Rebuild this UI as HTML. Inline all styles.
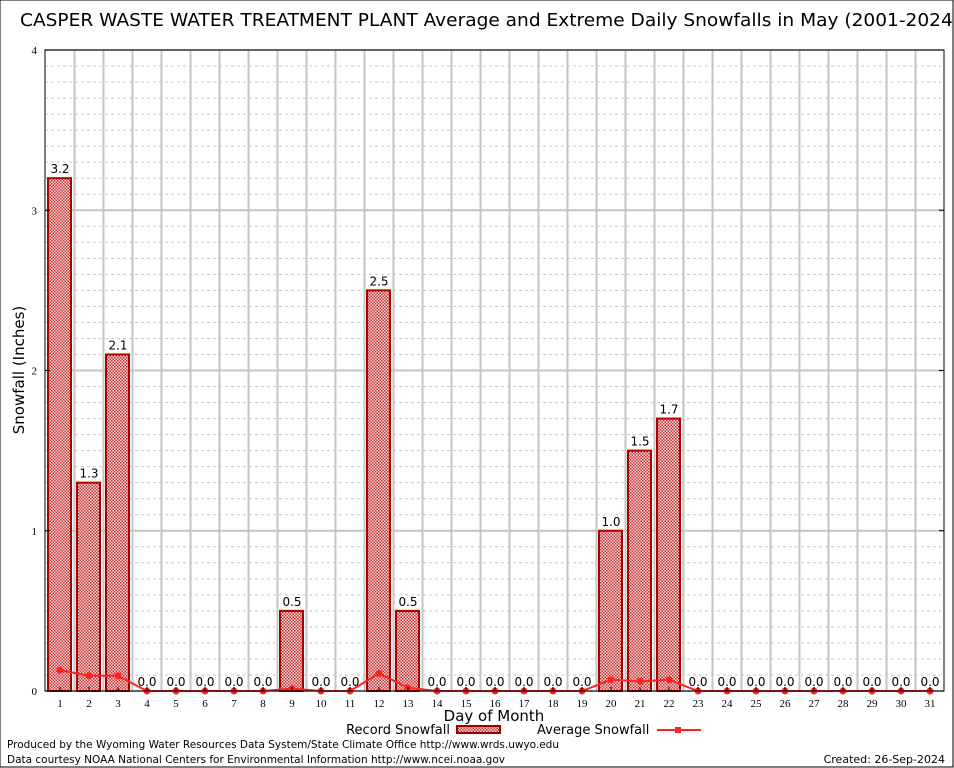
<!DOCTYPE html>
<html><head><meta charset="utf-8"><style>
body{margin:0;background:#fff;}
svg{display:block;font-family:"DejaVu Sans","Liberation Sans",sans-serif;}
</style></head><body>
<svg id="c" width="954" height="768">
<defs>
<pattern id="hatch" width="3" height="3" patternUnits="userSpaceOnUse">
<rect width="3" height="3" fill="#f4dada"/>
<rect width="1.5" height="1.5" fill="#c33"/><rect x="1.5" y="1.5" width="1.5" height="1.5" fill="#c33"/>
</pattern>
</defs>
<rect x="0" y="0" width="953" height="767" fill="#fff" stroke="#000"/>
<text x="20" y="26" font-size="18" textLength="940" lengthAdjust="spacingAndGlyphs">CASPER WASTE WATER TREATMENT PLANT Average and Extreme Daily Snowfalls in May (2001-2024)</text>
<g id="grid"></g>
<g id="bars"></g>
<g id="avg"></g>
<g id="axes"></g>
<text x="24" y="370" font-size="15" transform="rotate(-90 24 370)" text-anchor="middle">Snowfall (Inches)</text>
<text x="494" y="721" font-size="15" text-anchor="middle">Day of Month</text>
<g>
<text x="450" y="734" font-size="13" text-anchor="end">Record Snowfall</text>
<rect x="457" y="726" width="43" height="7" fill="url(#hatch)" stroke="#900" stroke-width="2"/>
</g>
<g>
<text x="537" y="734" font-size="13">Average Snowfall</text>
<line x1="657" y1="730" x2="701" y2="730" stroke="#f22" stroke-width="2"/>
<rect x="675" y="727" width="6" height="6" fill="#f22"/>
</g>
<text x="7" y="748" font-size="11" textLength="552" lengthAdjust="spacingAndGlyphs">Produced by the Wyoming Water Resources Data System/State Climate Office http://www.wrds.uwyo.edu</text>
<text x="7" y="763" font-size="11" textLength="498" lengthAdjust="spacingAndGlyphs">Data courtesy NOAA National Centers for Environmental Information http://www.ncei.noaa.gov</text>
<text x="945" y="763" font-size="11" text-anchor="end">Created: 26-Sep-2024</text>
</svg>
<script>
const days=[1,2,3,4,5,6,7,8,9,10,11,12,13,14,15,16,17,18,19,20,21,22,23,24,25,26,27,28,29,30,31];
const recordSnow=[3.2,1.3,2.1,0,0,0,0,0,0.5,0,0,2.5,0.5,0,0,0,0,0,0,1.0,1.5,1.7,0,0,0,0,0,0,0,0,0];
const avgSnow=[0.13,0.095,0.095,0,0,0,0,0,0.015,0,0,0.11,0.02,0,0,0,0,0,0,0.07,0.06,0.07,0,0,0,0,0,0,0,0,0];
const yTicks=[0,1,2,3,4];
const L=45,R=944,T=50,B=691,ymax=4;
const xs=d=>60+(d-1)*29;
const ys=v=>B-(B-T)*v/ymax;
const NS="http://www.w3.org/2000/svg";
function mk(p,tag,a){const e=document.createElementNS(NS,tag);for(const k in a)e.setAttribute(k,a[k]);p.appendChild(e);return e;}
const grid=document.getElementById('grid'),bars=document.getElementById('bars'),avg=document.getElementById('avg'),axes=document.getElementById('axes');
for(let i=1;i<40;i++){if(i%10===0)continue;const y=ys(i/10);
const g=mk(grid,'line',{x1:L,x2:R,y1:y,y2:y,stroke:'#c8c8c8','stroke-dasharray':'3,3'});

}
yTicks.forEach(t=>{const y=ys(t);
const g=mk(grid,'line',{x1:L,x2:R,y1:y,y2:y,stroke:'#c4c4c4','stroke-width':2});


const tx=mk(axes,'text',{x:L-8,y:y+4,'font-size':11,'text-anchor':'end','font-family':'Liberation Serif,serif'});tx.textContent=t;


mk(axes,'line',{x1:L,x2:L+5,y1:y,y2:y,stroke:'#000'});mk(axes,'line',{x1:R,x2:R-5,y1:y,y2:y,stroke:'#000'});});
days.forEach((d,i)=>{const x=xs(d)+14.5;
if(i<days.length-1){const g=mk(grid,'line',{x1:x,x2:x,y1:T,y2:B,stroke:'#c4c4c4','stroke-width':2});

}
const v=recordSnow[i];
if(v>0){const r=mk(bars,'rect',{x:xs(d)-12,y:ys(v),width:23,height:B-ys(v),fill:'url(#hatch)',stroke:'#a00','stroke-width':2});

}
const lb=mk(bars,'text',{x:xs(d),y:ys(v)-5,'font-size':12,'text-anchor':'middle'});lb.textContent=v.toFixed(1);


const tx=mk(axes,'text',{x:xs(d),y:B+16,'font-size':11,'text-anchor':'middle','font-family':'Liberation Serif,serif'});tx.textContent=d;


mk(axes,'line',{x1:xs(d),x2:xs(d),y1:B,y2:B-4,stroke:'#000'});
});
const pl=mk(avg,'polyline',{points:days.map((d,i)=>xs(d)+','+ys(avgSnow[i])).join(' '),fill:'none',stroke:'#f22','stroke-width':2});


days.forEach((d,i)=>{const c=mk(avg,'circle',{cx:xs(d),cy:ys(avgSnow[i]),r:3.5,fill:'#f22'});

});
const fr=mk(axes,'rect',{x:L,y:T,width:R-L,height:B-T,fill:'none',stroke:'#000'});


</script>
</body></html>
